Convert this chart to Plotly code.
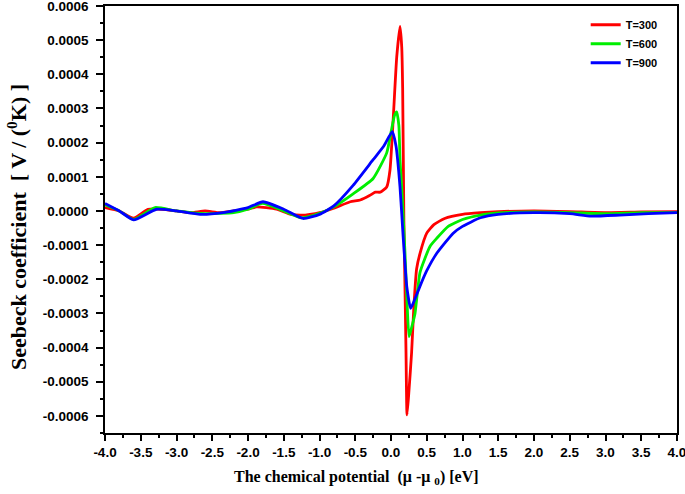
import plotly.graph_objects as go

# T=300 (red)
x_300 = [-4.0, -3.8, -3.6, -3.4, -3.2, -3.0, -2.8, -2.6, -2.4, -2.2, -2.0, -1.88, -1.6, -1.4, -1.2, -1.0,
         -0.8, -0.57, -0.43, -0.3, -0.22, -0.15, -0.06, -0.014, 0.03, 0.08, 0.126, 0.15, 0.163, 0.18,
         0.2, 0.21, 0.224, 0.25, 0.288, 0.32, 0.358, 0.406, 0.5, 0.6, 0.75, 1.0, 1.25, 1.5, 2.0, 2.5,
         3.0, 3.5, 4.0]
y_300 = [0.10, 0.0, -0.21, 0.05, 0.05, 0.0, -0.05, 0.0, -0.05, 0.0, 0.05, 0.12, 0.05, -0.1, -0.12, -0.05,
         0.08, 0.27, 0.32, 0.45, 0.55, 0.55, 0.7, 1.2, 2.66, 4.5, 5.4, 4.8, 3.6, -0.26,
         -2.8, -4.15, -5.97, -5.3, -4.15, -2.8, -1.7, -1.24, -0.65, -0.4, -0.22, -0.1, -0.05, -0.02, 0.0, -0.02,
         -0.05, -0.03, -0.02]

# T=600 (green)
x_600 = [-4.0, -3.8, -3.6, -3.3, -3.0, -2.6, -2.2, -2.0, -1.8, -1.5, -1.25, -1.0, -0.8, -0.53, -0.25,
         -0.06, 0.0, 0.05, 0.08, 0.11, 0.126, 0.16, 0.196, 0.225, 0.252, 0.29, 0.336, 0.406, 0.545, 0.64,
         0.8, 1.0, 1.25, 1.5, 2.0, 2.5, 3.0, 3.5, 4.0]
y_600 = [0.18, 0.0, -0.25, 0.1, 0.0, -0.08, -0.05, 0.05, 0.22, 0.0, -0.2, -0.07, 0.12, 0.5, 0.95,
         1.7, 2.3, 2.8, 2.9, 2.5, 1.5, 0.3, -1.24, -2.7, -3.68, -3.4, -3.0, -1.8, -1.04, -0.8,
         -0.45, -0.25, -0.12, -0.06, -0.03, -0.05, -0.08, -0.05, -0.05]

# T=900 (blue)
x_900 = [-4.0, -3.8, -3.6, -3.28, -3.0, -2.67, -2.35, -2.0, -1.79, -1.5, -1.23, -1.0, -0.8, -0.53,
         -0.25, -0.1, 0.018, 0.07, 0.126, 0.17, 0.22, 0.274, 0.33, 0.406, 0.5, 0.64, 0.87, 1.0, 1.25,
         1.5, 2.0, 2.5, 2.8, 3.2, 3.6, 4.0]
y_900 = [0.22, 0.0, -0.26, 0.05, 0.0, -0.1, -0.05, 0.1, 0.27, 0.05, -0.22, -0.1, 0.15, 0.75,
         1.5, 1.9, 2.32, 1.9, 0.7, -0.75, -2.2, -2.85, -2.6, -2.2, -1.75, -1.24, -0.65, -0.45, -0.2,
         -0.1, -0.05, -0.08, -0.15, -0.12, -0.08, -0.05]

series = [("T=300", x_300, y_300, "#ff0000"),
          ("T=600", x_600, y_600, "#00ee00"),
          ("T=900", x_900, y_900, "#0000ff")]

y_tickvals = [-0.0006, -0.0005, -0.0004, -0.0003, -0.0002, -0.0001, 0.0, 0.0001, 0.0002, 0.0003, 0.0004, 0.0005, 0.0006]
y_ticktext = ["-0.0006", "-0.0005", "-0.0004", "-0.0003", "-0.0002", "-0.0001", "0.0000",
              "0.0001", "0.0002", "0.0003", "0.0004", "0.0005", "0.0006"]
x_tickvals = [-4.0, -3.5, -3.0, -2.5, -2.0, -1.5, -1.0, -0.5, 0.0, 0.5, 1.0, 1.5, 2.0, 2.5, 3.0, 3.5, 4.0]
x_ticktext = ["-4.0", "-3.5", "-3.0", "-2.5", "-2.0", "-1.5", "-1.0", "-0.5", "0.0", "0.5", "1.0",
              "1.5", "2.0", "2.5", "3.0", "3.5", "4.0"]

fig = go.Figure()
for name, xs, ys, col in series:
    fig.add_trace(go.Scatter(x=xs, y=[v * 1e-4 for v in ys], mode="lines", name=name,
                             line=dict(color=col, width=2.8, shape="spline", smoothing=0.5)))

SANS = "Liberation Sans, Arial, sans-serif"
SERIF = "Liberation Serif, Times New Roman, serif"
PW, PH = 572, 427
fig.update_layout(
    width=685, height=494,
    margin=dict(l=105, r=8, t=6, b=61, autoexpand=False),
    paper_bgcolor="white", plot_bgcolor="white",
    showlegend=True,
    legend=dict(x=0.975, y=0.99, xanchor="right", yanchor="top",
                font=dict(family=SANS, size=11, color="black", weight="bold"),
                bgcolor="rgba(0,0,0,0)", tracegroupgap=0, itemwidth=30),
    xaxis=dict(range=[-4.0, 4.0], tickvals=x_tickvals, ticktext=x_ticktext, automargin=False,
               ticklabeloverflow="allow",
               ticks="outside", ticklen=6, tickwidth=1.5, tickcolor="black",
               minor=dict(ticks="outside", ticklen=3, tickwidth=1.5, tickcolor="black", dtick=0.25, showgrid=False),
               showline=True, linecolor="black", linewidth=1.5, mirror=True, showgrid=False, zeroline=False,
               tickfont=dict(family=SANS, size=13.5, color="black", weight="bold")),
    yaxis=dict(range=[-0.00065, 0.0006], tickvals=y_tickvals, ticktext=y_ticktext, automargin=False,
               ticklabeloverflow="allow", ticklabelstandoff=5,
               ticks="outside", ticklen=7, tickwidth=1.5, tickcolor="black",
               minor=dict(ticks="outside", ticklen=3, tickwidth=1.5, tickcolor="black", dtick=0.00005, showgrid=False),
               showline=True, linecolor="black", linewidth=1.5, mirror=True, showgrid=False, zeroline=False,
               tickfont=dict(family=SANS, size=13.5, color="black", weight="bold")),
    annotations=[
        dict(text="Seebeck coefficient  [ V / (<sup>0</sup>K) ]", textangle=-90,
             xref="paper", yref="paper", x=(17 - 105) / PW, y=(494 - 61 - 227) / PH,
             xanchor="center", yanchor="middle", showarrow=False,
             font=dict(family=SERIF, size=22, color="black", weight="bold")),
        dict(text="The chemical potential  (μ -μ <sub>0</sub>) [eV]",
             xref="paper", yref="paper", x=(356 - 105) / PW, y=-(478 - 433) / PH,
             xanchor="center", yanchor="middle", showarrow=False,
             font=dict(family=SERIF, size=16, color="black", weight="bold")),
    ],
)

fig.write_html("out.html", config={"displayModeBar": False},
               post_script="document.body.style.margin='0px';")
